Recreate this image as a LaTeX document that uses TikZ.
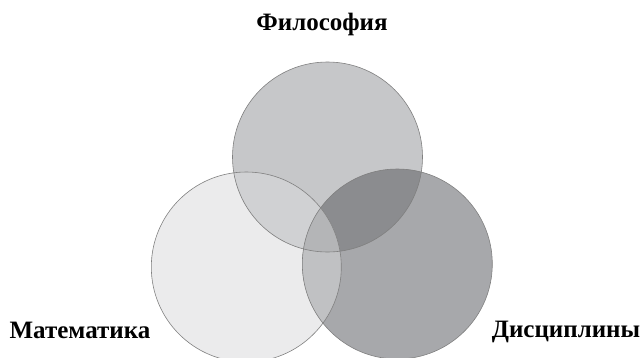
\documentclass[tikz,border=0pt]{standalone}
\usepackage{fontspec}
\setmainfont{Liberation Serif}
\usetikzlibrary{calc}

\definecolor{leftfill}{HTML}{EBEBEC}
\definecolor{topfill}{HTML}{C6C7C9}
\definecolor{rightfill}{HTML}{A7A8AB}
\definecolor{tlfill}{HTML}{D0D1D3}
\definecolor{trfill}{HTML}{8B8C8F}
\definecolor{lrfill}{HTML}{C0C1C3}
\definecolor{midfill}{HTML}{B4B5B7}

\tikzset{
  ring/.style={circle,draw=black!50,line width=0.6pt,minimum size=190pt,inner sep=0pt},
  lbl/.style={font=\bfseries\fontsize{25}{25}\selectfont,anchor=base,inner sep=0pt}
}

\begin{document}
\begin{tikzpicture}[x=1pt,y=-1pt]
\useasboundingbox (0,0) rectangle (643,357);
\coordinate (cl) at (246.3,267);
\coordinate (ct) at (327.5,157);
\coordinate (cr) at (397.3,264);
\fill[leftfill] (cl) circle (95);
\fill[topfill] (ct) circle (95);
\fill[rightfill] (cr) circle (95);
\begin{scope}
\clip (ct) circle (95);
\fill[tlfill] (cl) circle (95);
\fill[trfill] (cr) circle (95);
\end{scope}
\begin{scope}
\clip (cl) circle (95);
\fill[lrfill] (cr) circle (95);
\clip (ct) circle (95);
\fill[midfill] (cr) circle (95);
\end{scope}
\draw (cl) node[ring] (math) {};
\draw (ct) node[ring] (phil) {};
\draw (cr) node[ring] (disc) {};
\draw (322,30) node[lbl] (philtext) {Философия};
\draw (80,338) node[lbl] (mathtext) {Математика};
\draw (566,337) node[lbl] (disctext) {Дисциплины};
\end{tikzpicture}
\end{document}
